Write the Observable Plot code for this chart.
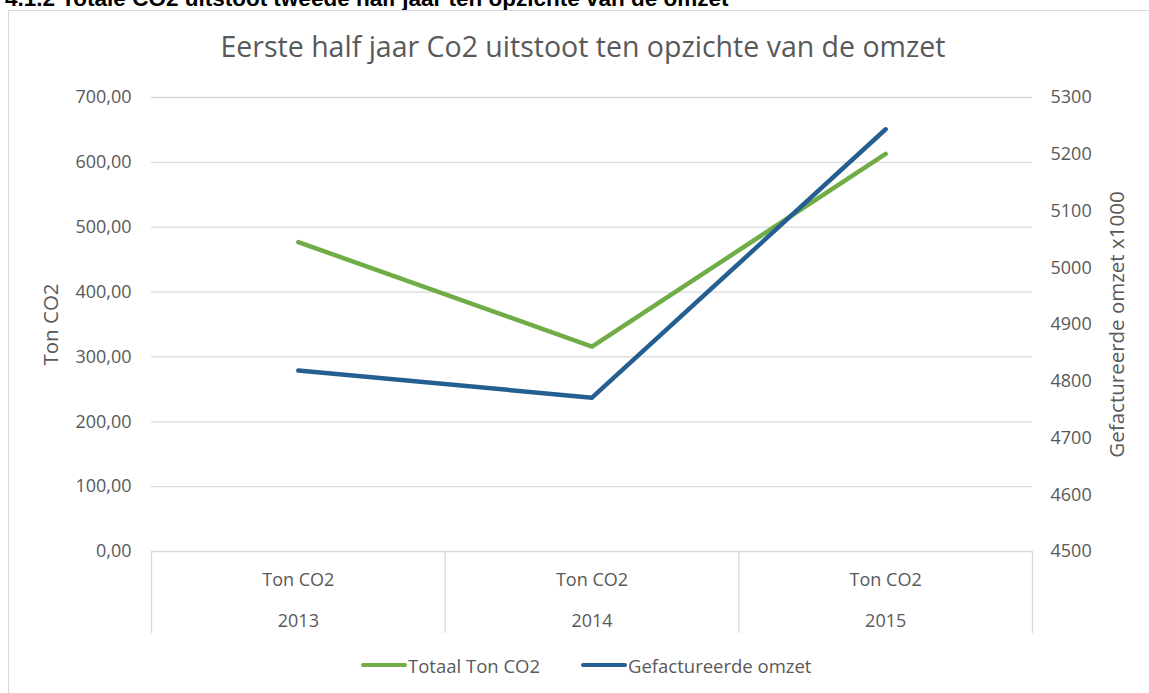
<!DOCTYPE html>
<html>
<head>
<meta charset="utf-8">
<script src="https://cdn.jsdelivr.net/npm/d3@7"></script>
<script src="https://cdn.jsdelivr.net/npm/@observablehq/plot@0.6"></script>
<style>
  html, body { margin: 0; padding: 0; background: #fff; overflow: hidden; }
  body { width: 1149px; height: 693px; position: relative; font-family: "Open Sans", sans-serif; }
  #header { position: absolute; left: 5px; top: -12px; font: bold 22.5px/22px "Liberation Sans", Arial, sans-serif; color: #000; white-space: nowrap; }
  #frame { position: absolute; left: 8px; top: 10px; width: 1160px; height: 700px; border: 1px solid #d9d9d9; box-sizing: border-box; background: #fff; }
  #title { position: absolute; left: 0; width: 1166px; top: 27px; text-align: center; font-size: 28.5px; color: #595959; white-space: nowrap; }
  #chart { position: absolute; left: 0; top: 70px; }
  #legend { position: absolute; top: 652px; left: 0; width: 1149px; height: 26px; font-size: 18.5px; color: #595959; }
  .item { position: absolute; top: 0; display: flex; align-items: center; height: 26px; white-space: nowrap; }
  .sw { display: inline-block; width: 46px; height: 4px; border-radius: 2px; margin-right: 1px; }
</style>
</head>
<body>
<div id="header">4.1.2 Totale CO2 uitstoot tweede half jaar ten opzichte van de omzet</div>
<div id="frame"></div>
<div id="title">Eerste half jaar Co2 uitstoot ten opzichte van de omzet</div>
<div id="chart"></div>
<div id="legend"></div>
<script>
// ---- data ----
const years = [2013, 2014, 2015];
const categoryLabel = "Ton CO2";
const totaalTonCO2 = [477, 316, 613];           // left axis (Ton CO2)
const gefactureerdeOmzet = [4819, 4771, 5244];  // right axis (x1000)
const leftTicks = [0, 100, 200, 300, 400, 500, 600, 700];
const rightTicks = [4500, 4600, 4700, 4800, 4900, 5000, 5100, 5200, 5300];
const seriesNames = ["Totaal Ton CO2", "Gefactureerde omzet"];
const seriesColors = ["#70ad47", "#255e91"];
const leftAxisLabel = "Ton CO2";
const rightAxisLabel = "Gefactureerde omzet x1000";

// ---- layout ----
const W = 1149, H = 580;
const leftDomain = [0, 700];
const rightDomain = [4500, 5300];
const toLeft = v => leftDomain[0] + (v - rightDomain[0]) * (leftDomain[1] - leftDomain[0]) / (rightDomain[1] - rightDomain[0]);

const green = years.map((y, i) => ({year: y, value: totaalTonCO2[i]}));
const blue = years.map((y, i) => ({year: y, value: toLeft(gefactureerdeOmzet[i])}));
const bounds = [years[0] - 0.5, ...years.map(y => y + 0.5)];
const fmt = d => d.toFixed(2).replace(".", ",");
const txt = {fontSize: 18, fill: "#595959"};
const ttl = {fontSize: 20.5, fill: "#595959"};

const plot = Plot.plot({
  width: W, height: H,
  marginLeft: 151, marginRight: 117, marginTop: 27, marginBottom: 99,
  x: {type: "linear", domain: [years[0] - 0.5, years[years.length - 1] + 0.5], axis: null},
  y: {domain: leftDomain, axis: null},
  style: {fontFamily: "Open Sans, sans-serif", fontSize: "18px", color: "#595959", background: "transparent", overflow: "visible"},
  marks: [
    Plot.ruleY(leftTicks, {stroke: "#d9d9d9", strokeWidth: 1.3}),
    Plot.ruleX(bounds, {stroke: "#d9d9d9", strokeWidth: 1.3, insetTop: 454, insetBottom: -82}),
    Plot.axisY({ticks: leftTicks, tickFormat: fmt, tickSize: 0, tickPadding: 20, label: null, ...txt}),
    Plot.axisY({anchor: "right", ticks: rightTicks.map(toLeft), tickFormat: (d, i) => String(rightTicks[i]), tickSize: 0, tickPadding: 18, label: null, ...txt}),
    Plot.text(years, {x: d => d, text: () => categoryLabel, frameAnchor: "bottom", dy: 34, ...txt}),
    Plot.text(years, {x: d => d, text: d => String(d), frameAnchor: "bottom", dy: 75, ...txt}),
    Plot.text([leftAxisLabel], {text: d => d, frameAnchor: "left", textAnchor: "middle", dx: -100, rotate: -90, ...ttl}),
    Plot.text([rightAxisLabel], {text: d => d, frameAnchor: "right", textAnchor: "middle", dx: 85, rotate: -90, ...ttl}),
    Plot.line(green, {x: "year", y: "value", stroke: seriesColors[0], strokeWidth: 4.5, strokeLinecap: "round", strokeLinejoin: "round"}),
    Plot.line(blue, {x: "year", y: "value", stroke: seriesColors[1], strokeWidth: 4.5, strokeLinecap: "round", strokeLinejoin: "round"})
  ]
});
document.getElementById("chart").appendChild(plot);

// ---- legend ----
const legend = document.getElementById("legend");
const legendLeft = [361, 581];
seriesNames.forEach((name, i) => {
  const item = document.createElement("div");
  item.className = "item";
  item.style.left = legendLeft[i] + "px";
  item.innerHTML = `<span class="sw" style="background:${seriesColors[i]}"></span><span>${name}</span>`;
  legend.appendChild(item);
});
</script>
</body>
</html>
